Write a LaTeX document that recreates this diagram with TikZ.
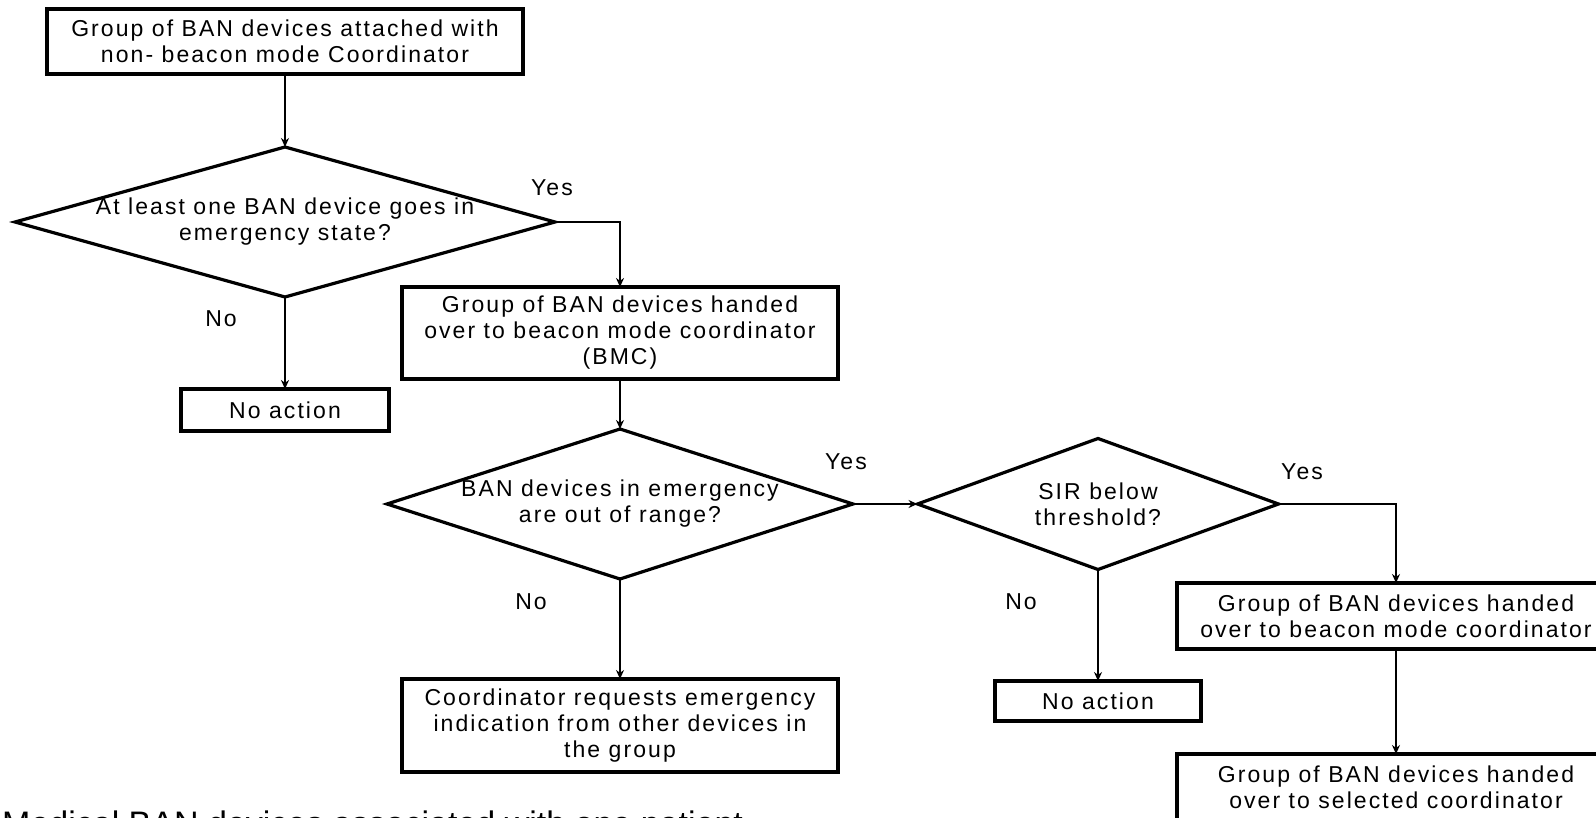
\documentclass[tikz,border=0pt]{standalone}
\usepackage{fontspec}
\usepackage{tkz-euclide}
\setmainfont{Liberation Sans}[LetterSpace=9]
\usetikzlibrary{shapes.geometric, arrows.meta}
\tikzset{>={Stealth[length=9pt, width=8pt]}}
\newcommand\flowfont{\fontsize{23}{26}\selectfont}
\newcommand\patientfont{\fontsize{34}{38}\selectfont\addfontfeature{LetterSpace=0}}
\tikzset{
  block/.style={rectangle, draw, line width=3.2pt, outer sep=0pt, inner sep=2pt, align=center, font=\flowfont},
  decision/.style={diamond, draw, line width=3.2pt, outer sep=0pt, inner sep=-100pt, align=center, font=\flowfont},
  answer/.style={font=\flowfont, inner sep=0pt},
  flow/.style={->, line width=2.5pt}
}

\begin{document}
\begin{tikzpicture}[x=1pt, y=-1pt]
\useasboundingbox (0,0) rectangle (1596,818);
\tkzDefPoints{285/41.5/S, 285/222/Q1, 285/410/N1, 620/333/H1, 620/504/Q2, 620/725.5/R, 1098/504/Q3, 1098/701/N2, 1396/616/H2, 1396/787/H3}
\node[block, minimum width=476pt, minimum height=65pt] (start) at (S) {Group of BAN devices attached with\\non- beacon mode Coordinator};
\node[decision, minimum width=540pt, minimum height=150pt] (q1) at (Q1) {At least one BAN device goes in\\emergency state?};
\node[block, minimum width=208pt, minimum height=42pt] (none1) at (N1) {No action};
\node[block, minimum width=436pt, minimum height=92pt] (act1) at (H1) {Group of BAN devices handed\\over to beacon mode coordinator\\(BMC)};
\node[decision, minimum width=466pt, minimum height=150pt] (q2) at (Q2) {BAN devices in emergency\\are out of range?};
\node[block, minimum width=436pt, minimum height=93pt] (req) at (R) {Coordinator requests emergency\\indication from other devices in\\the group};
\node[decision, minimum width=361pt, minimum height=131pt] (q3) at (Q3) {SIR below\\threshold?};
\node[block, minimum width=206pt, minimum height=40pt] (none2) at (N2) {No action};
\node[block, minimum width=438pt, minimum height=66pt] (bmc2) at (H2) {Group of BAN devices handed\\over to beacon mode coordinator};
\node[block, minimum width=438pt, minimum height=66pt] (sel) at (H3) {Group of BAN devices handed\\over to selected coordinator};

\node[answer] (yes1) at (552,188) {Yes};
\node[answer] (no1) at (221,319) {No};
\node[answer] (yes2) at (846,462) {Yes};
\node[answer] (no2) at (531,602) {No};
\node[answer] (yes3) at (1302,472) {Yes};
\node[answer] (no3) at (1021,602) {No};
\node[anchor=north west, inner sep=0pt, font=\patientfont] (patient) at (2,811) {Medical BAN devices associated with one patient};

\draw[flow] (start) -- (q1);
\draw[flow] (q1) -| (act1);
\draw[flow] (q1) -- (none1);
\draw[flow] (act1) -- (q2);
\draw[flow] (q2) -- (q3);
\draw[flow] (q2) -- (req);
\draw[flow] (q3) -- (none2);
\draw[flow] (q3) -| (bmc2);
\draw[flow] (bmc2) -- (sel);
\end{tikzpicture}
\end{document}
